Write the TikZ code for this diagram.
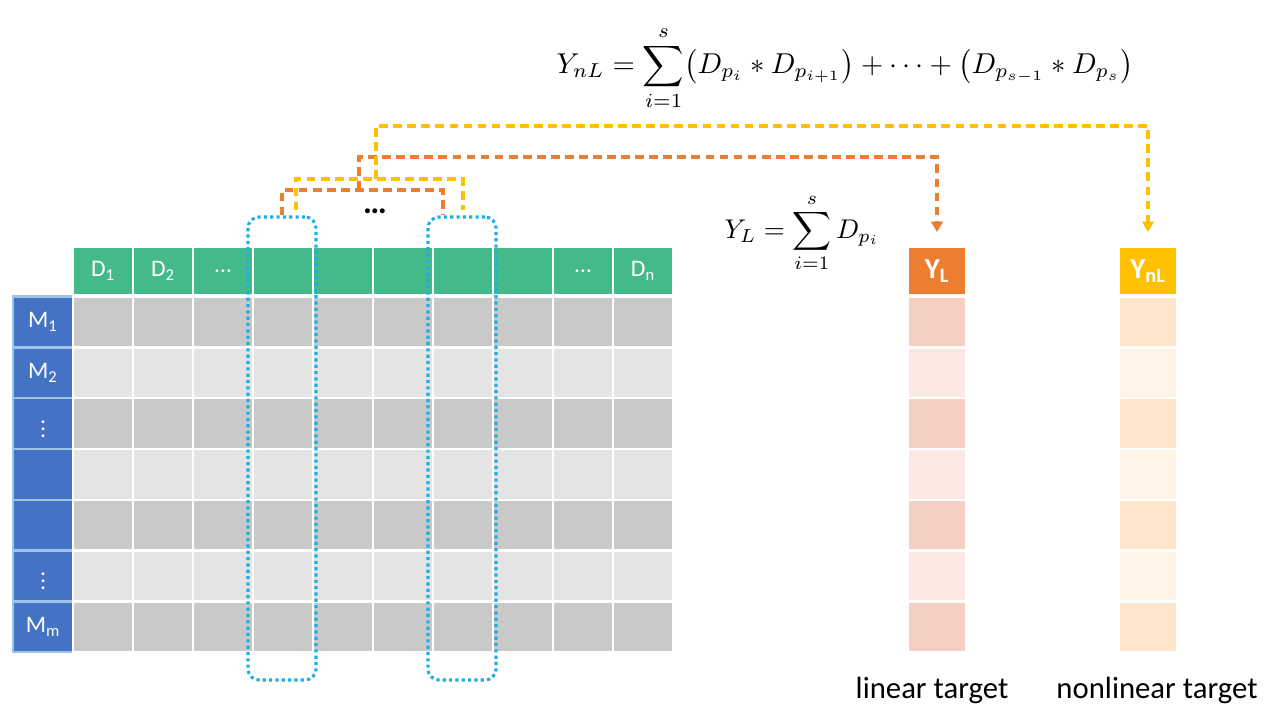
\documentclass[tikz,border=0pt]{standalone}
\usepackage{amsmath, amssymb}
\usepackage[no-math]{fontspec}
\setmainfont{Carlito}
\usepackage{tikz}
\usetikzlibrary{positioning, arrows.meta, calc}

\definecolor{hdrgreen}{HTML}{44B98A}
\definecolor{rowblue}{HTML}{4472C4}
\definecolor{rowsep}{HTML}{9DC3E6}
\definecolor{darkgrey}{HTML}{C9C9C9}
\definecolor{lightgrey}{HTML}{E4E4E4}
\definecolor{linorange}{HTML}{ED7D31}
\definecolor{nlyellow}{HTML}{FFC000}
\definecolor{selblue}{HTML}{1FAEE3}
\definecolor{linA}{HTML}{F6CFC3}
\definecolor{linB}{HTML}{FBE8E2}
\definecolor{nlA}{HTML}{FFE6CA}
\definecolor{nlB}{HTML}{FFF3E6}

\begin{document}
\begin{tikzpicture}[x=0.02cm, y=-0.02cm, >={Triangle[length=6pt, width=6.5pt]},
    cell/.style={rectangle, draw=white, line width=1.4pt, minimum width=1.2cm,
        minimum height=1.016cm, inner sep=0pt, text=white, font=\fontsize{13.5}{15}\selectfont},
    hcell/.style={cell, fill=hdrgreen, minimum height=0.98cm},
    mcell/.style={cell, fill=rowblue, draw=rowsep},
    tcell/.style={cell, minimum width=1.16cm},
    thead/.style={tcell, minimum height=0.98cm, font=\bfseries\fontsize{16.5}{18}\selectfont},
    sel/.style={draw=selblue, line width=1.8pt, dash pattern=on 1.8pt off 1.8pt,
        rounded corners=0.22cm, minimum width=1.36cm, minimum height=9.26cm},
    olink/.style={draw=linorange, line width=1.9pt, dash pattern=on 5pt off 3pt},
    ylink/.style={draw=nlyellow, line width=1.9pt, dash pattern=on 5pt off 3pt},
    caption/.style={font=\fontsize{17.5}{20}\selectfont}]
    \useasboundingbox (0,0) rectangle (1264,704);

    % Header row
    \foreach \c/\lab in {1/{D\textsubscript{1}}, 2/{D\textsubscript{2}}, 3/{…}, 4/{}, 5/{}, 6/{},
        7/{}, 8/{}, 9/{…}, 10/{D\textsubscript{n}}}
        \node[hcell] (d\c) at ({43+60*\c}, 271) {\lab};

    % Matrix rows and target columns
    \foreach \r/\lab/\gc/\lc/\nc in {1/{M\textsubscript{1}}/darkgrey/linA/nlA,
        2/{M\textsubscript{2}}/lightgrey/linB/nlB, 3/{$\vdots$}/darkgrey/linA/nlA,
        4/{}/lightgrey/linB/nlB, 5/{}/darkgrey/linA/nlA, 6/{$\vdots$}/lightgrey/linB/nlB,
        7/{M\textsubscript{m}}/darkgrey/linA/nlA} {
        \node[mcell] (m\r) at (43, {322+50.8*(\r-1)}) {\lab};
        \foreach \c in {1,...,10}
            \node[cell, fill=\gc] (g-\r-\c) at ({43+60*\c}, {322+50.8*(\r-1)}) {};
        \node[tcell, fill=\lc] (yl-\r) at (937, {322+50.8*(\r-1)}) {};
        \node[tcell, fill=\nc] (ynl-\r) at (1148, {322+50.8*(\r-1)}) {};
    }
    \node[thead, fill=linorange] (yl) at (937, 271) {Y\textsubscript{L}};
    \node[thead, fill=nlyellow] (ynl) at (1148, 271) {Y\textsubscript{nL}};

    % Selected columns
    \node[sel] (s1) at (282, 448.5) {};
    \node[sel] (s2) at (462, 448.5) {};
    \node[font=\bfseries\fontsize{19}{20}\selectfont] (gap) at (375, 211) {…};

    % Links
    \coordinate (oj) at (359, 190);
    \coordinate (otop) at (359, 157);
    \coordinate (yj) at (376, 179);
    \coordinate (ytop) at (376, 126);
    \draw[olink] (s1.north) |- (oj) -| ($(s2.north)+(-19,0)$);
    \draw[ylink] ($(s1.north)+(14,-5)$) |- (yj) -| ($(s2.north)+(1,-5)$);
    \draw[olink, ->, shorten >=7.5pt] (oj) -- (otop) -| (yl.north);
    \draw[ylink, ->, shorten >=7.5pt] (yj) -- (ytop) -| (ynl.north);

    % Formulas
    \node[inner sep=0pt] (fnl) at (845, 68) {\resizebox{11.54cm}{!}{$\displaystyle
        Y_{nL} = \sum_{i=1}^{s}\bigl(D_{p_i} * D_{p_{i+1}}\bigr) + \cdots + \bigl(D_{p_{s-1}} * D_{p_s}\bigr)$}};
    \node[inner sep=0pt] (fl) at (802, 233) {\resizebox{3.1cm}{!}{$\displaystyle
        Y_L = \sum_{i=1}^{s} D_{p_i}$}};

    % Captions
    \node[caption] (lt) at (932, 690) {linear target};
    \node[caption] (nlt) at (1157, 690) {nonlinear target};
\end{tikzpicture}
\end{document}
